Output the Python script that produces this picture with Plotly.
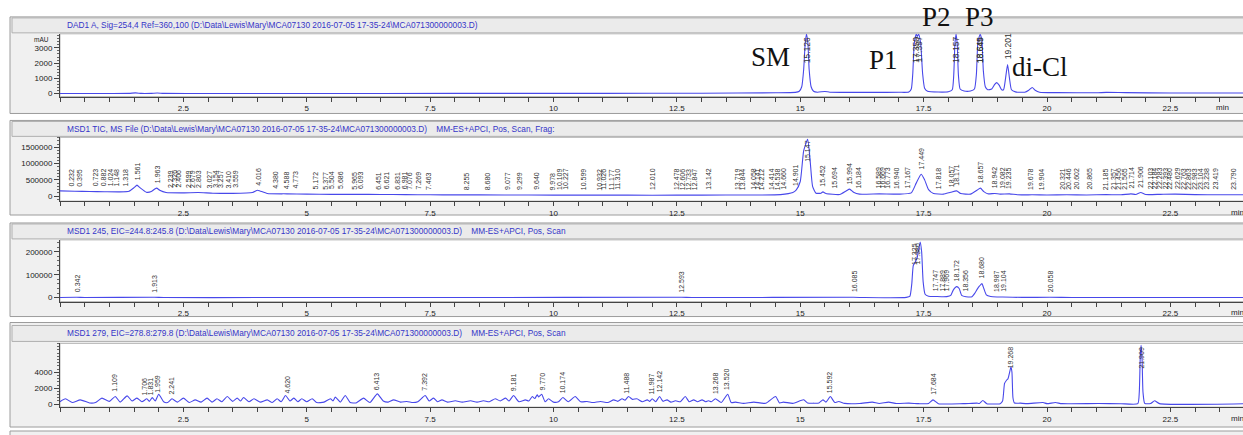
import numpy as np
import plotly.graph_objects as go

W, H = 1243, 435

# ---------------- DAD1 A, Sig=254 (mAU) ----------------
dad_time = [0.0, 1.0, 1.4, 1.53, 1.65, 1.85, 1.97, 2.1, 3.0, 5.0, 8.0, 11.0, 13.0, 14.5, 14.9,
            14.98, 15.03, 15.07, 15.10, 15.126, 15.155, 15.18, 15.22, 15.27, 15.35, 15.5, 15.6,
            16.0, 16.5, 17.0, 17.2, 17.25, 17.28, 17.31, 17.35, 17.375, 17.40, 17.44, 17.48,
            17.52, 17.58, 17.8, 18.0, 18.08, 18.11, 18.135, 18.157, 18.18, 18.205, 18.24, 18.32,
            18.45, 18.53, 18.57, 18.60, 18.645, 18.68, 18.71, 18.75, 18.80, 18.88, 18.94, 18.98,
            19.03, 19.08, 19.12, 19.16, 19.201, 19.24, 19.28, 19.36, 19.55, 19.63, 19.70, 19.76,
            19.85, 20.2, 21.0, 21.2, 21.6, 22.5, 24.0]
dad_mau = [0, 5, 10, 45, 10, 15, 40, 10, 5, 5, 10, 15, 25, 50, 80,
           150, 450, 1600, 3300, 3900, 3300, 1600, 450, 150, 90, 140, 90,
           80, 80, 85, 100, 300, 1300, 3300, 3900, 3750, 3900, 3300, 1300,
           350, 150, 100, 120, 250, 1200, 3300, 3900, 3300, 1200, 300, 170,
           170, 300, 1300, 3400, 3900, 3500, 1500, 450, 250, 300, 600, 720,
           550, 250, 250, 1000, 1900, 1000, 250, 110, 90, 220, 400, 220,
           90, 60, 50, 80, 60, 40, 35]
dad_peaks = ["15.126", "17.350", "17.397", "18.157", "18.645", "18.649", "19.201"]

# ---------------- MSD1 TIC ----------------
tic_time = [0.0, 0.3, 0.6, 0.9, 1.2, 1.4, 1.5, 1.56, 1.62, 1.75, 1.85, 1.93, 1.96, 2.02, 2.15,
            2.5, 2.8, 3.1, 3.5, 3.9, 4.0, 4.05, 4.2, 4.6, 5.0, 5.5, 6.0, 6.5, 7.0, 7.5, 8.0, 9.0,
            10.0, 11.0, 12.0, 13.0, 14.0, 14.6, 14.85, 14.92, 15.0, 15.07, 15.15, 15.2, 15.25,
            15.32, 15.42, 15.46, 15.52, 15.8, 15.93, 16.0, 16.08, 16.2, 16.6, 17.0, 17.25, 17.35,
            17.45, 17.52, 17.6, 17.7, 17.9, 18.05, 18.17, 18.25, 18.45, 18.58, 18.65, 18.72, 18.8,
            18.94, 19.05, 19.24, 19.4, 19.7, 20.0, 20.4, 20.8, 21.2, 21.5, 21.7, 21.8, 21.9, 22.0,
            22.3, 22.6, 23.0, 23.5, 24.0]
tic_counts = [160e3, 150e3, 140e3, 135e3, 130e3, 150e3, 260e3, 340e3, 260e3, 120e3, 140e3, 230e3,
              245e3, 180e3, 110e3, 100e3, 110e3, 90e3, 85e3, 110e3, 180e3, 160e3, 80e3, 70e3, 60e3,
              55e3, 55e3, 50e3, 45e3, 40e3, 38e3, 35e3, 30e3, 30e3, 28e3, 30e3, 35e3, 45e3, 110e3,
              190e3, 450e3, 1400e3, 1750e3, 1100e3, 300e3, 90e3, 90e3, 130e3, 80e3, 50e3, 160e3,
              215e3, 120e3, 60e3, 70e3, 60e3, 100e3, 400e3, 675e3, 500e3, 200e3, 80e3, 60e3, 120e3,
              160e3, 80e3, 60e3, 180e3, 245e3, 140e3, 70e3, 80e3, 60e3, 70e3, 40e3, 40e3, 35e3,
              40e3, 35e3, 45e3, 40e3, 70e3, 50e3, 110e3, 50e3, 55e3, 60e3, 45e3, 40e3, 40e3]
tic_peaks = ["0.232", "0.395", "0.723", "0.882", "1.024", "1.148", "1.318", "1.561", "1.963",
             "2.239", "2.326", "2.406", "2.599", "2.679", "2.803", "3.027", "3.154", "3.257",
             "3.410", "3.559", "4.016", "4.380", "4.588", "4.773", "5.172", "5.377", "5.504",
             "5.686", "5.965", "6.093", "6.451", "6.621", "6.831", "6.981", "7.076", "7.269",
             "7.463", "8.255", "8.680", "9.077", "9.299", "9.640", "9.978", "10.109", "10.227",
             "10.599", "10.932", "11.026", "11.177", "11.310", "12.010", "12.478", "12.606",
             "12.733", "12.847", "13.142", "13.719", "13.844", "14.058", "14.141", "14.212",
             "14.414", "14.538", "14.660", "14.901", "15.147", "15.452", "15.694", "15.994",
             "16.184", "16.589", "16.669", "16.773", "16.940", "17.167", "17.449", "17.818",
             "18.057", "18.171", "18.657", "18.942", "19.082", "19.235", "19.678", "19.904",
             "20.321", "20.446", "20.602", "20.865", "21.185", "21.357", "21.456", "21.565",
             "21.714", "21.906", "22.103", "22.184", "22.283", "22.393", "22.480", "22.629",
             "22.763", "22.863", "22.983", "23.104", "23.238", "23.419", "23.790"]

# ---------------- MSD1 245, EIC=244.8:245.8 ----------------
eic245_time = [0.0, 0.34, 0.5, 1.91, 2.1, 4.0, 8.0, 12.59, 12.8, 16.08, 16.3, 17.15, 17.22,
               17.26, 17.29, 17.33, 17.37, 17.43, 17.46, 17.49, 17.53, 17.6, 17.75, 17.9, 17.97,
               18.05, 18.10, 18.17, 18.22, 18.27, 18.36, 18.48, 18.54, 18.59, 18.63, 18.68,
               18.72, 18.77, 18.86, 18.99, 19.10, 19.5, 20.06, 20.5, 24.0]
eic245_counts = [800, 1500, 500, 1500, 400, 300, 300, 1500, 300, 1500, 300, 1000, 5000,
                 60000, 140000, 156000, 175000, 243000, 200000, 70000, 15000, 6000, 5000, 4000, 4500,
                 10000, 33000, 48000, 40000, 10000, 4000, 4000, 20000, 38000, 50000, 61000,
                 40000, 12000, 5000, 3000, 2500, 1000, 1500, 500, 300]
eic245_peaks = ["0.342", "1.913", "12.593", "16.085", "17.325", "17.380", "17.747", "17.889",
                "17.969", "18.172", "18.356", "18.680", "18.987", "19.104", "20.058"]

# ---------------- MSD1 279, EIC=278.8:279.8 ----------------
eic279_time = [0.00, 0.11, 0.25, 0.41, 0.60, 0.72, 0.85, 1.00, 1.12, 1.22, 1.36, 1.46, 1.56, 1.66,
               1.76, 1.81, 1.87, 1.93, 2.00, 2.10, 2.18, 2.27, 2.38, 2.50, 2.62, 2.74, 2.86, 2.98,
               3.08, 3.18, 3.28, 3.39, 3.50, 3.59, 3.66, 3.72, 3.83, 3.93, 4.06, 4.20, 4.30, 4.40,
               4.48, 4.57, 4.66, 4.74, 4.82, 4.90, 5.00, 5.11, 5.20, 5.35, 5.48, 5.53, 5.58, 5.68,
               5.78, 5.88, 6.00, 6.15, 6.28, 6.43, 6.55, 6.65, 6.76, 6.90, 7.03, 7.15, 7.25, 7.40,
               7.48, 7.57, 7.65, 7.74, 7.85, 8.01, 8.15, 8.32, 8.45, 8.58, 8.70, 8.82, 8.92, 9.03,
               9.10, 9.19, 9.30, 9.43, 9.50, 9.57, 9.62, 9.67, 9.70, 9.76, 9.83, 9.90, 10.00, 10.10,
               10.19, 10.30, 10.44, 10.55, 10.68, 10.80, 10.95, 11.10, 11.22, 11.30, 11.39, 11.45,
               11.52, 11.60, 11.69, 11.80, 11.90, 11.95, 12.00, 12.07, 12.15, 12.22, 12.30, 12.38,
               12.47, 12.57, 12.67, 12.75, 12.84, 12.92, 13.01, 13.08, 13.14, 13.20, 13.28, 13.40,
               13.53, 13.60, 13.69, 13.85, 14.06, 14.30, 14.50, 14.58, 14.66, 14.85, 15.07, 15.15,
               15.27, 15.38, 15.46, 15.52, 15.61, 15.70, 15.78, 15.90, 16.20, 16.46, 16.60, 16.79,
               16.95, 17.20, 17.40, 17.60, 17.69, 17.80, 18.30, 18.58, 18.63, 18.70, 18.78, 19.05,
               19.10, 19.14, 19.18, 19.21, 19.25, 19.27, 19.29, 19.31, 19.34, 19.46, 19.60, 19.92,
               20.00, 20.17, 20.30, 21.04, 21.50, 21.84, 21.87, 21.89, 21.906, 21.925, 21.945,
               21.98, 22.10, 22.18, 22.28, 24.00]
eic279_counts = [300, 670, 200, 540, 150, 200, 750, 350, 960, 250, 1040, 400, 750, 300,
                 670, 350, 830, 400, 1250, 300, 200, 670, 250, 750, 200, 540, 250, 750,
                 250, 670, 300, 950, 350, 750, 400, 830, 300, 670, 250, 540, 200, 670,
                 300, 1080, 400, 750, 300, 670, 300, 670, 200, 250, 670, 400, 880, 250,
                 1080, 200, 150, 750, 200, 1290, 400, 250, 540, 250, 330, 200, 300, 1080,
                 400, 750, 300, 540, 250, 420, 250, 420, 250, 420, 300, 670, 400, 750,
                 400, 1080, 300, 540, 400, 950, 700, 1160, 900, 1250, 300, 670, 250, 300,
                 830, 300, 950, 300, 330, 200, 330, 200, 540, 350, 670, 500,
                 950, 600, 670, 300, 540, 350, 670, 300, 950, 350, 540, 250,
                 420, 300, 950, 300, 540, 300, 540, 300, 420, 300, 670, 200,
                 1250, 200, 250, 100, 250, 100, 950, 150, 250, 100, 540, 150,
                 120, 150, 540, 250, 950, 200, 330, 100, 80, 250, 80, 250,
                 80, 120, 60, 80, 540, 60, 60, 120, 80, 460, 60, 60,
                 400, 2600, 3000, 3200, 4200, 4700, 4000, 800, 150, 120, 60, 200,
                 60, 200, 60, 80, 50, 60, 1500, 6000, 7400, 6000, 1500,
                 100, 80, 420, 60, 50]
eic279_peaks = ["1.109", "1.706", "1.831", "1.959", "2.241", "4.620", "6.413", "7.392", "9.181",
                "9.770", "10.174", "11.488", "11.987", "12.142", "13.268", "13.520", "15.592",
                "17.684", "19.268", "21.909"]

x_ticks = [2.5, 5, 7.5, 10, 12.5, 15, 17.5, 20, 22.5]
x_ticktext = ["2.5", "5", "7.5", "10", "12.5", "15", "17.5", "20", "22.5"]

PATH = r"(D:\Data\Lewis\Mary\MCA07130 2016-07-05 17-35-24\MCA071300000003.D)"

# panel geometry in screen pixels
panels = [
    dict(title="DAD1 A, Sig=254,4 Ref=360,100 " + PATH,
         frame=(17, 114), bar=(18, 33), plot=(34, 97), yr=(-196, 3922),
         yt=[0, 1000, 2000, 3000], ym=200, t=dad_time, v=dad_mau, pk=dad_peaks, fs=8.5, minx=1222),
    dict(title="MSD1 TIC, MS File " + PATH + "&nbsp;&nbsp;&nbsp;&nbsp;MM-ES+APCI, Pos, Scan, Frag:",
         frame=(121, 216), bar=(122, 137), plot=(138, 202), yr=(-153e3, 1.81e6),
         yt=[0, 500000, 1000000, 1500000], ym=100000, t=tic_time, v=tic_counts, pk=tic_peaks, fs=7, minx=1237),
    dict(title="MSD1 245, EIC=244.8:245.8 " + PATH + "&nbsp;&nbsp;&nbsp;&nbsp;MM-ES+APCI, Pos, Scan",
         frame=(224, 318), bar=(225, 240), plot=(241, 303), yr=(-17.4e3, 252e3),
         yt=[0, 100000, 200000], ym=20000, t=eic245_time, v=eic245_counts, pk=eic245_peaks, fs=7, minx=1237),
    dict(title="MSD1 279, EIC=278.8:279.8 " + PATH + "&nbsp;&nbsp;&nbsp;&nbsp;MM-ES+APCI, Pos, Scan",
         frame=(324, 429), bar=(327, 343), plot=(345, 409), yr=(-375, 7625),
         yt=[0, 2000, 4000], ym=400, t=eic279_time, v=eic279_counts, pk=eic279_peaks, fs=7, minx=1237),
]

LINE = "#4848ea"
FONT = "Liberation Sans"
X0_PX = 60
X_RANGE = [0, (W - X0_PX) / 49.35]


def yp(p):
    return 1 - p / H


fig = go.Figure()
shapes = []
annotations = []
layout = {}

for i, p in enumerate(panels, start=1):
    sfx = "" if i == 1 else str(i)
    ft, fb = p["frame"]
    bt, bb = p["bar"]
    pt, pb = p["plot"]
    # gray frame, title bar, white plot area
    shapes.append(dict(type="rect", xref="paper", yref="paper", x0=10 / W, x1=1.01, y0=yp(fb), y1=yp(ft),
                       fillcolor="#f0f0f0", line=dict(color="#9c9c9c", width=1), layer="below"))
    shapes.append(dict(type="rect", xref="paper", yref="paper", x0=12 / W, x1=1.01, y0=yp(bb), y1=yp(bt),
                       fillcolor="#ebebeb", line=dict(color="#b0b0b0", width=1), layer="below"))
    shapes.append(dict(type="rect", xref="paper", yref="paper", x0=X0_PX / W, x1=1.01, y0=yp(pb), y1=yp(pt),
                       fillcolor="white", line=dict(color="#b8b8b8", width=1), layer="below"))
    annotations.append(dict(xref="paper", yref="paper", x=65 / W, y=yp((bt + bb) / 2), text=p["title"],
                            showarrow=False, xanchor="left", yanchor="middle",
                            font=dict(family=FONT, size=8.3, color="#3535c8")))
    annotations.append(dict(xref="paper", yref="paper", x=p["minx"] / W, y=yp(pb + 11), text="min",
                            showarrow=False, xanchor="center", yanchor="middle",
                            font=dict(family=FONT, size=8, color="#222")))

    layout["xaxis" + sfx] = dict(domain=[X0_PX / W, 1], range=X_RANGE, anchor="y" + sfx,
                                 tickmode="array", tickvals=x_ticks, ticktext=x_ticktext,
                                 ticks="outside", ticklen=4, tickcolor="#444", showline=True,
                                 linecolor="#444", linewidth=1, showgrid=False, zeroline=False,
                                 tickfont=dict(family=FONT, size=8, color="#222"),
                                 minor=dict(tick0=0, dtick=0.5, ticks="outside", ticklen=4,
                                            tickcolor="#444", showgrid=False))
    layout["yaxis" + sfx] = dict(domain=[yp(pb), yp(pt)], range=list(p["yr"]), anchor="x" + sfx,
                                 tickmode="array", tickvals=p["yt"], ticktext=[str(v) for v in p["yt"]],
                                 ticks="outside", ticklen=5, tickcolor="#444", showline=True,
                                 linecolor="#444", linewidth=1, showgrid=False, zeroline=False,
                                 tickfont=dict(family=FONT, size=8, color="#222"),
                                 minor=dict(tick0=0, dtick=p["ym"], ticks="outside", ticklen=2.5,
                                            tickcolor="#666", showgrid=False))

    fig.add_trace(go.Scatter(x=p["t"], y=p["v"], mode="lines", xaxis="x" + sfx, yaxis="y" + sfx,
                             line=dict(color=LINE, width=1.1, shape="spline", smoothing=0.5),
                             hoverinfo="skip", showlegend=False))

    # rotated retention-time labels sitting on the trace
    r0, r1 = p["yr"]
    ppu = (pb - pt) / (r1 - r0)
    fs = p["fs"]
    for s in p["pk"]:
        t = float(s)
        v = float(np.interp(t, p["t"], p["v"]))
        length = fs * (0.556 * (len(s) - 1) + 0.278)
        top_px = (v - r0) * ppu + 3 + length
        if top_px > (pb - pt) - 1:
            annotations.append(dict(xref="x" + sfx, yref="y" + sfx, x=t, y=r1, text=s, textangle=-90,
                                    showarrow=False, xanchor="center", yanchor="top", yshift=-1,
                                    font=dict(family=FONT, size=fs, color="#333")))
        else:
            annotations.append(dict(xref="x" + sfx, yref="y" + sfx, x=t, y=v, text=s, textangle=-90,
                                    showarrow=False, xanchor="center", yanchor="bottom", yshift=3,
                                    font=dict(family=FONT, size=fs, color="#333")))

# next (cut-off) panel border at the bottom
shapes.append(dict(type="rect", xref="paper", yref="paper", x0=10 / W, x1=1.01, y0=yp(445), y1=yp(433),
                   fillcolor="#f0f0f0", line=dict(color="#9c9c9c", width=1), layer="below"))

annotations.append(dict(xref="paper", yref="paper", x=51 / W, y=yp(40), text="mAU", showarrow=False,
                        xanchor="right", yanchor="middle", font=dict(family=FONT, size=6.5, color="#222")))

# compound labels on the DAD trace
for name, cx, cy in [("SM", 770, 57), ("P1", 883, 60), ("P2", 937, 17), ("P3", 979, 17), ("di-Cl", 1040, 67)]:
    annotations.append(dict(xref="paper", yref="paper", x=cx / W, y=yp(cy), text=name, showarrow=False,
                            xanchor="center", yanchor="middle",
                            font=dict(family="Liberation Serif", size=27, color="#111")))

fig.update_layout(width=W, height=H, margin=dict(l=0, r=0, t=0, b=0), paper_bgcolor="white",
                  plot_bgcolor="rgba(0,0,0,0)", shapes=shapes, annotations=annotations,
                  showlegend=False, **layout)

fig.write_html("out.html", config={"displayModeBar": False},
               post_script="document.body.style.margin='0';")
